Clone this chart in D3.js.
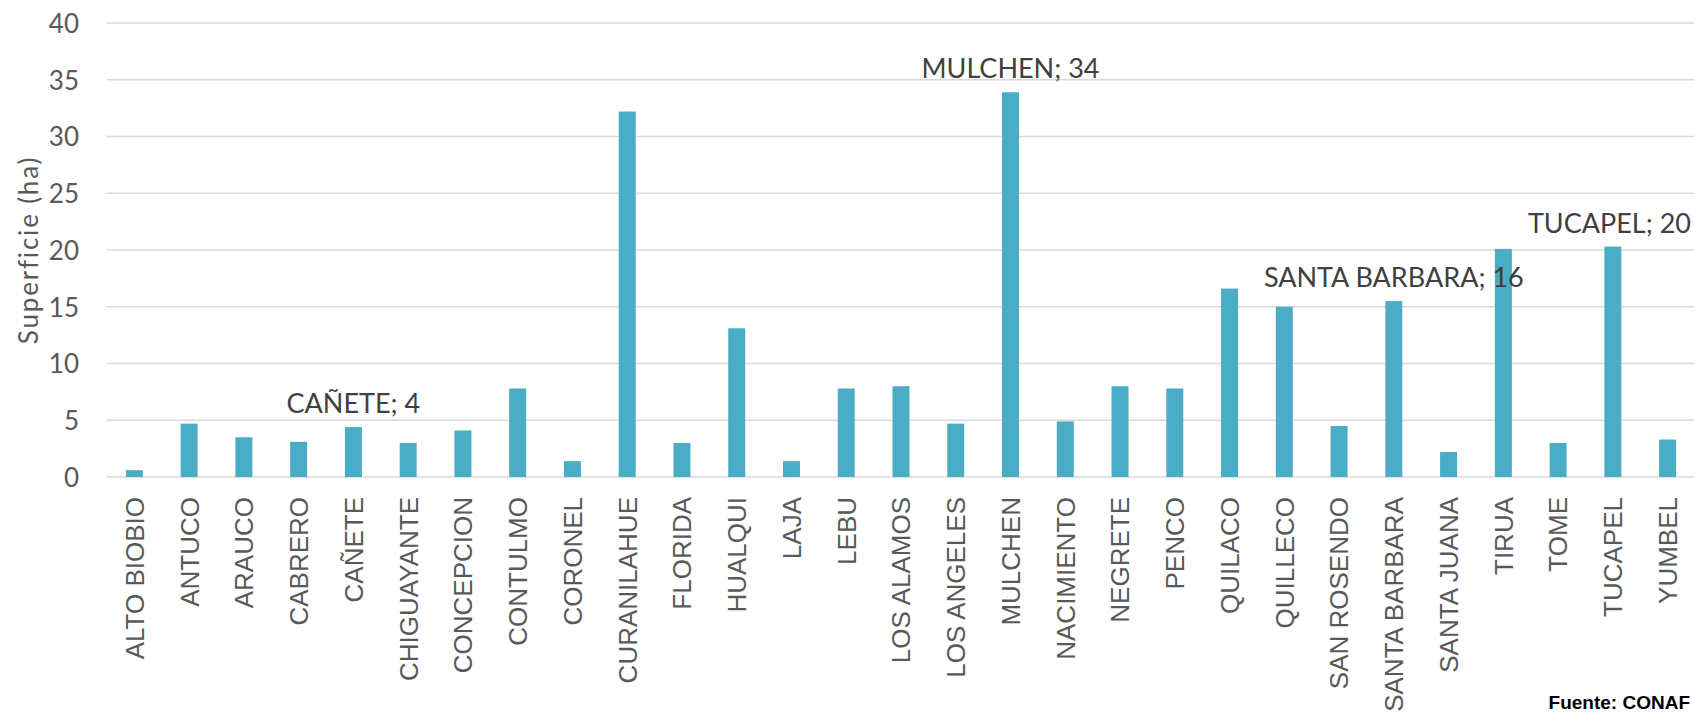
<!DOCTYPE html>
<html>
<head>
<meta charset="utf-8">
<script src="https://cdn.jsdelivr.net/npm/d3@7"></script>
<style>
  html, body { margin: 0; padding: 0; background: #ffffff; }
  svg { display: block; }
</style>
</head>
<body>
<svg id="chart" width="1694" height="712"></svg>
<script>
const categories = ["ALTO BIOBIO","ANTUCO","ARAUCO","CABRERO","CAÑETE","CHIGUAYANTE","CONCEPCION","CONTULMO","CORONEL","CURANILAHUE","FLORIDA","HUALQUI","LAJA","LEBU","LOS ALAMOS","LOS ANGELES","MULCHEN","NACIMIENTO","NEGRETE","PENCO","QUILACO","QUILLECO","SAN ROSENDO","SANTA BARBARA","SANTA JUANA","TIRUA","TOME","TUCAPEL","YUMBEL"];
const values = [0.6,4.7,3.5,3.1,4.4,3.0,4.1,7.8,1.4,32.2,3.0,13.1,1.4,7.8,8.0,4.7,33.9,4.9,8.0,7.8,16.6,15.0,4.5,15.5,2.2,20.1,3.0,20.3,3.3];
const yTicks = [0,5,10,15,20,25,30,35,40];
const labelled = ["CAÑETE","MULCHEN","SANTA BARBARA","TUCAPEL"];
const yTitle = "Superficie (ha)";
const source = "Fuente: CONAF";

// layout
const W = 1694, H = 712;
const plot = { left: 107, right: 1695, top: 23, bottom: 477 };

const svg = d3.select("#chart");
const x = d3.scaleBand().domain(categories).range([plot.left, plot.right]).paddingInner(0.69).paddingOuter(0.345);
const y = d3.scaleLinear().domain([0, 40]).range([plot.bottom, plot.top]);

// gridlines
svg.append("g").selectAll("line").data(yTicks).join("line")
  .attr("x1", plot.left).attr("x2", W)
  .attr("y1", d => y(d)).attr("y2", d => y(d))
  .attr("stroke", "#d9d9d9").attr("stroke-width", 1.5);

// y axis labels
const yAxis = d3.axisLeft(y).tickValues(yTicks).tickSize(0).tickPadding(0);
const gy = svg.append("g").attr("transform", `translate(79,0)`).call(yAxis);
gy.select(".domain").remove();
gy.selectAll("text").attr("font-family", "Lato, sans-serif").attr("font-size", 26).attr("fill", "#595959").attr("dy", "0.36em");

// bars
const data = categories.map((c, i) => ({ c, v: values[i] }));
svg.append("g").selectAll("rect").data(data).join("rect")
  .attr("x", d => x(d.c)).attr("width", x.bandwidth())
  .attr("y", d => y(d.v)).attr("height", d => y(0) - y(d.v))
  .attr("fill", "#4bacc6");

// x axis labels
const xAxis = d3.axisBottom(x).tickSize(0).tickPadding(0);
const gx = svg.append("g").attr("transform", `translate(0,${plot.bottom})`).call(xAxis);
gx.select(".domain").remove();
gx.selectAll("text")
  .attr("font-family", "'Liberation Sans', Arial, sans-serif").attr("font-size", 26).attr("fill", "#595959")
  .attr("text-anchor", "end")
  .attr("transform", "rotate(-90)")
  .attr("x", -20).attr("y", 0).attr("dy", "0.36em");

// data labels
svg.append("g").selectAll("text").data(data.filter(d => labelled.includes(d.c))).join("text")
  .attr("x", d => x(d.c) + x.bandwidth() / 2)
  .attr("y", d => y(d.v) - 14)
  .attr("text-anchor", "middle")
  .attr("font-family", "Lato, sans-serif").attr("font-size", 27).attr("fill", "#404040")
  .text(d => `${d.c}; ${Math.round(d.v)}`)
  .each(function() {
    const bb = this.getBBox();
    const over = bb.x + bb.width - (W - 3);
    if (over > 0) d3.select(this).attr("x", +d3.select(this).attr("x") - over);
  });

// y title
svg.append("text")
  .attr("transform", `translate(38,250) rotate(-90)`)
  .attr("text-anchor", "middle")
  .attr("font-family", "Lato, sans-serif").attr("font-size", 26).attr("letter-spacing", 1.8).attr("fill", "#595959")
  .text(yTitle);

// source
svg.append("text")
  .attr("x", 1690).attr("y", 709)
  .attr("text-anchor", "end")
  .attr("font-family", "'Liberation Sans', Arial, sans-serif").attr("font-weight", "bold").attr("font-size", 19).attr("fill", "#000")
  .text(source);
</script>
</body>
</html>
